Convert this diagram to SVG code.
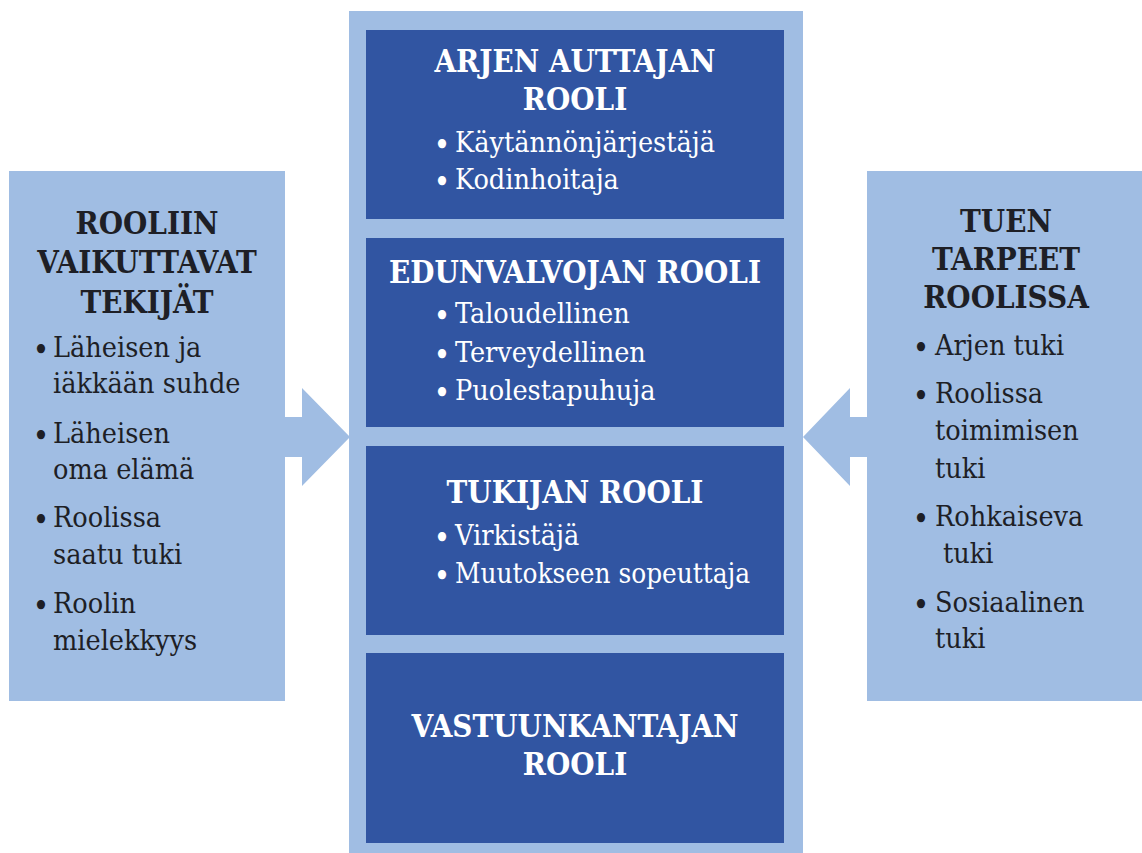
<svg xmlns="http://www.w3.org/2000/svg" width="1142" height="853" viewBox="0 0 1142 853">
<style>
.light{fill:#A0BDE3}
.dark{fill:#3155A2}
text{font-family:"DejaVu Serif Condensed","DejaVu Serif",serif;font-size:28.5px}
.tb{font-weight:bold;font-size:31px;text-anchor:middle}
.bu{text-anchor:middle;font-size:31px}
.w{fill:#FFFFFF}
.k{fill:#1E1F26}
</style>
<rect width="1142" height="853" fill="#FFFFFF"/>
<g id="connectors">
<polygon class="light" points="280,417 302,417 302,388 350,437 302,486 302,457 280,457"/>
<polygon class="light" points="872,417 850,417 850,388 803,437 850,486 850,457 872,457"/>
</g>
<g id="center-column">
<rect class="light" x="349" y="11" width="454" height="842"/>
</g>
<g id="left-panel">
<rect class="light" x="9" y="171" width="276" height="530"/>
<text class="tb k" x="147" y="234">ROOLIIN</text>
<text class="tb k" x="147" y="273">VAIKUTTAVAT</text>
<text class="tb k" x="147" y="313">TEKIJÄT</text>
<text class="bu k" x="41" y="361">•</text>
<text class="k" x="53" y="357">Läheisen ja</text>
<text class="k" x="53" y="393">iäkkään suhde</text>
<text class="bu k" x="41" y="447">•</text>
<text class="k" x="53" y="443">Läheisen</text>
<text class="k" x="53" y="479">oma elämä</text>
<text class="bu k" x="41" y="531">•</text>
<text class="k" x="53" y="527">Roolissa</text>
<text class="k" x="53" y="564">saatu tuki</text>
<text class="bu k" x="41" y="617">•</text>
<text class="k" x="53" y="613">Roolin</text>
<text class="k" x="53" y="650">mielekkyys</text>
</g>
<g id="right-panel">
<rect class="light" x="867" y="171" width="275" height="530"/>
<text class="tb k" x="1006" y="232">TUEN</text>
<text class="tb k" x="1006" y="270">TARPEET</text>
<text class="tb k" x="1006" y="308">ROOLISSA</text>
<text class="bu k" x="921" y="359">•</text>
<text class="k" x="935" y="355">Arjen tuki</text>
<text class="bu k" x="921" y="407">•</text>
<text class="k" x="935" y="403">Roolissa</text>
<text class="k" x="935" y="440">toimimisen</text>
<text class="k" x="935" y="478">tuki</text>
<text class="bu k" x="921" y="530">•</text>
<text class="k" x="935" y="526">Rohkaiseva</text>
<text class="k" x="943" y="563">tuki</text>
<text class="bu k" x="921" y="616">•</text>
<text class="k" x="935" y="612">Sosiaalinen</text>
<text class="k" x="935" y="648">tuki</text>
</g>
<g id="arjen-auttajan">
<rect class="dark" x="366" y="30" width="418" height="189"/>
<text class="tb w" x="575" y="72">ARJEN AUTTAJAN</text>
<text class="tb w" x="575" y="110">ROOLI</text>
<text class="bu w" x="442" y="156">•</text>
<text class="w" x="455" y="152">Käytännönjärjestäjä</text>
<text class="bu w" x="442" y="193">•</text>
<text class="w" x="455" y="189">Kodinhoitaja</text>
</g>
<g id="edunvalvojan">
<rect class="dark" x="366" y="238" width="418" height="189"/>
<text class="tb w" x="575" y="283">EDUNVALVOJAN ROOLI</text>
<text class="bu w" x="442" y="327">•</text>
<text class="w" x="455" y="323">Taloudellinen</text>
<text class="bu w" x="442" y="366">•</text>
<text class="w" x="455" y="362">Terveydellinen</text>
<text class="bu w" x="442" y="404">•</text>
<text class="w" x="455" y="400">Puolestapuhuja</text>
</g>
<g id="tukijan">
<rect class="dark" x="366" y="446" width="418" height="189"/>
<text class="tb w" x="575" y="503">TUKIJAN ROOLI</text>
<text class="bu w" x="442" y="549">•</text>
<text class="w" x="455" y="545">Virkistäjä</text>
<text class="bu w" x="442" y="587">•</text>
<text class="w" x="455" y="583" textLength="295" lengthAdjust="spacingAndGlyphs">Muutokseen sopeuttaja</text>
</g>
<g id="vastuunkantajan">
<rect class="dark" x="366" y="653" width="418" height="190"/>
<text class="tb w" x="575" y="737">VASTUUNKANTAJAN</text>
<text class="tb w" x="575" y="775">ROOLI</text>
</g>
</svg>
